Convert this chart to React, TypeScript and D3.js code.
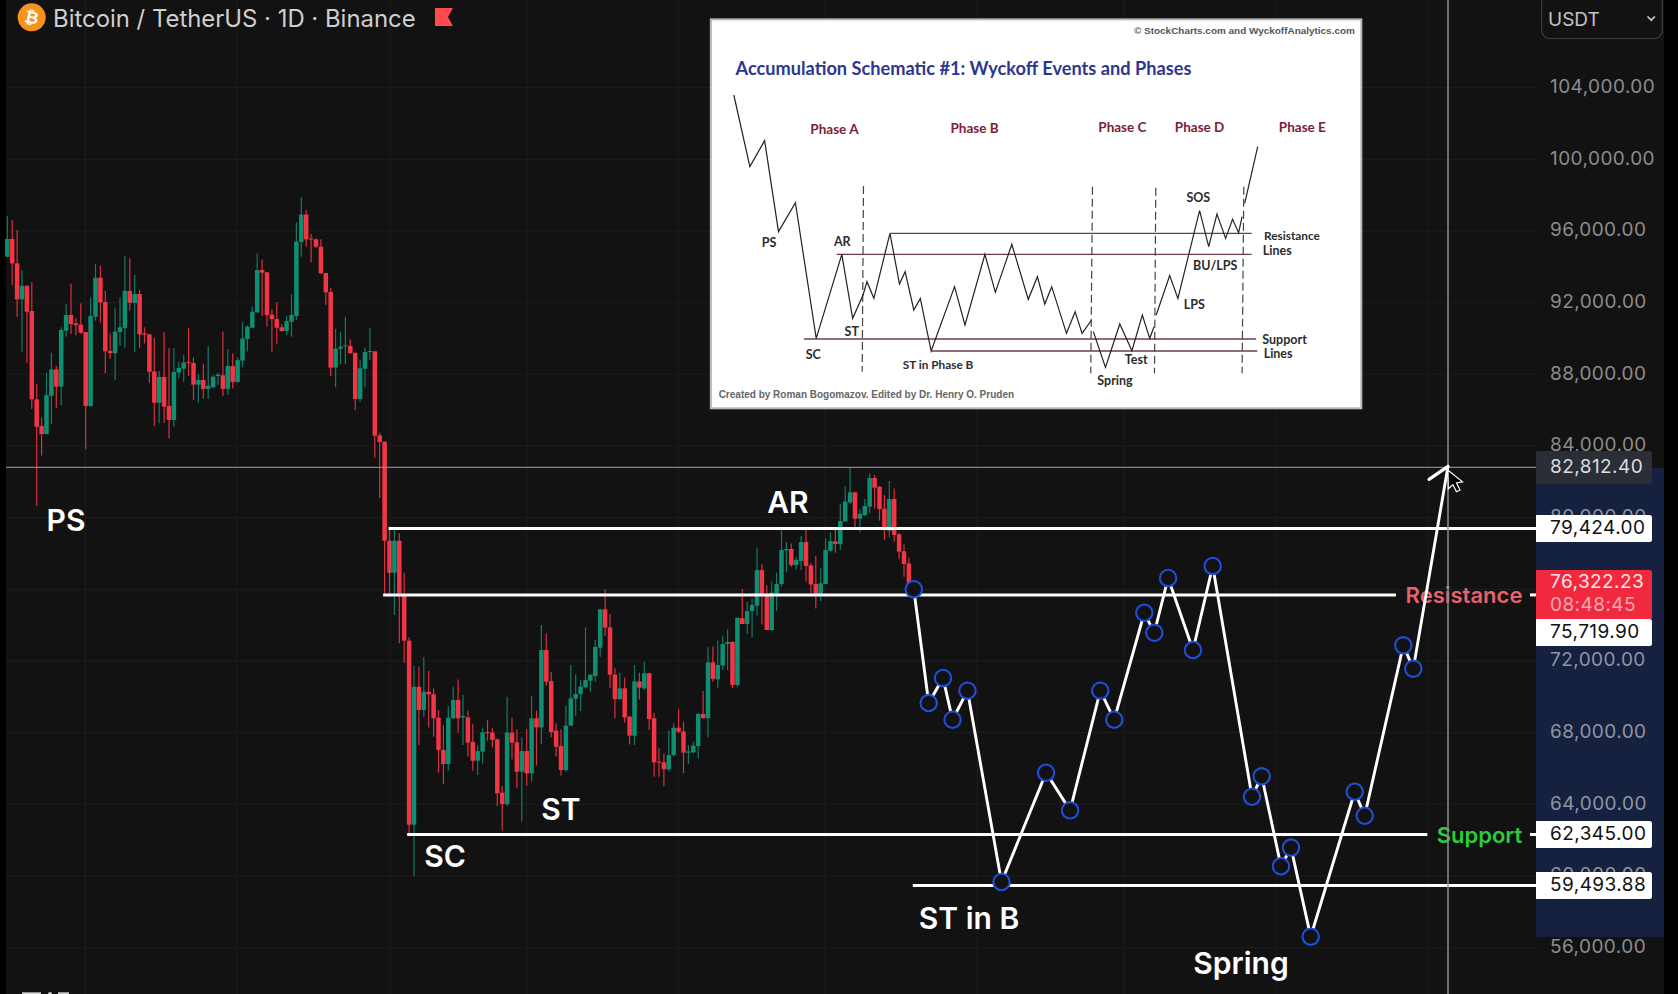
import React from "react";
import * as d3 from "d3";

const opens = [94510,95500,94140,92130,92890,91480,86550,85060,84610,86750,
88220,87260,90380,91260,90790,90720,90310,86180,91160,93340,
91980,89250,89120,90310,90530,92600,91930,92430,90230,90180,
88110,86360,87800,86180,85400,88040,88260,88630,88580,87370,
87630,87130,87220,87850,87890,87130,88410,87520,88710,89920,
90550,91400,93770,93640,91280,91030,90570,90360,90880,91200,
95330,96860,95530,95480,95070,93600,92540,88320,89380,89530,
89530,89150,86570,88260,89210,89230,84540,84190,
78660,76870,78660,75680,73080,62810,70510,69210,70230,70090,68780,66980,
66200,68750,69770,68800,68800,67420,66380,66890,67980,67950,
67570,64600,63960,67950,67410,65770,66920,65680,68750,68240,
72560,70830,68060,67200,65860,
68340,69840,70100,70480,70850,
71110,72690,74830,73820,71180,69820,70420,68840,67780,70810,
70420,71260,68750,66330,66290,65900,66700,68220,68020,66830,
66850,67200,68990,68750,71870,70920,71700,72890,73020,70610,
74340,74010,74730,75030,77020,75630,73670,75720,76240,78120,
78200,77300,77530,78590,77280,76240,75680,76240,78100,78620,
78470,79740,80800,81360,79890,80090,80560,82160,81670,80450,
79220,80990,79010,78070,77390];

const closes = [95500,94140,92130,92890,91440,86550,85020,84610,86790,88220,
87260,90420,91260,90750,90700,90270,86180,91200,93340,91960,
89230,89130,90330,90570,92600,91940,92430,90180,90160,88090,
86360,87800,86140,85400,88070,88300,88600,88580,87370,87630,
87130,87310,87810,87930,87130,88410,87520,88740,89940,90600,
91440,93770,93620,91260,91030,90550,90360,90920,91260,95350,
96860,95480,95480,95070,93580,92520,88320,89380,89490,89560,
89120,86570,88280,89190,89250,84520,84170,78660,
76870,78660,75720,73080,62810,70510,69210,70230,70090,68750,66980,66200,
68780,69770,68750,68880,67390,66380,66920,67960,67950,67540,
64560,63960,67950,67390,65770,66920,65680,68750,68240,72560,
70790,67980,67160,65860,68340,
69860,70100,70510,70880,71180,
72730,74830,73810,71180,69820,70420,68800,67780,70810,70460,
71260,68710,66290,66270,65900,66700,68220,68000,66830,66900,
67220,68990,68750,71870,70940,71720,72890,73000,70610,74360,
74010,74730,75070,77020,75630,73670,75760,76240,78140,78200,
77300,77580,78590,77250,76220,75680,76280,78140,78640,78470,
79760,80840,81360,79890,80150,80600,82160,81620,80430,79260,
80990,78980,78050,77360,76280];

const highs = [96780,96560,96000,93770,92890,93080,87400,85540,88040,89150,
88410,90570,91870,93020,91070,91910,90310,92240,94100,94010,
92610,90230,91680,92240,94550,94420,93490,92650,90570,90180,
89970,88130,90290,89400,89400,88650,89020,90530,88890,87960,
88520,89530,87910,88040,90330,89360,89120,88890,90870,90680,
91720,94700,94360,93640,91570,91980,90750,91200,92430,96430,
97820,97120,95780,95530,95480,93600,92760,90470,90310,91160,
89900,89150,88780,89430,90530,89230,84690,84190,
79350,79290,79070,76870,73270,71670,71630,72150,71390,70420,69210,68370,
69430,70510,70920,70050,69170,68430,67260,68240,68650,68190,
67630,64970,69950,68780,68130,67690,68130,69990,69170,73950,
73490,71350,68470,68130,69450,
71720,71200,70880,73820,71220,
73120,74830,75940,74570,71540,71290,71030,68880,71720,71290,
71910,71290,69060,67070,66790,68060,68470,69250,68560,67260,
67440,69060,70270,72710,72750,73080,73360,73710,73020,74360,
75960,75260,75440,78270,77340,76190,76370,76870,79400,78570,
78510,77770,78920,79400,77400,77820,77120,78790,79130,79350,
80710,81710,82730,81390,80410,80990,82420,82330,81710,81210,
81990,81580,79110,78460,77710];

const lows = [94510,92930,91160,89210,88560,86010,80600,83420,84610,85170,
86050,86230,90050,90200,90120,90200,83760,86140,90940,90830,
88000,88820,87630,89530,89430,91500,89210,89430,89670,87480,
85060,85210,85250,84370,85020,87720,87520,87850,86510,86360,
86600,86570,87180,87350,86740,86790,87160,87480,88340,89230,
90550,91400,91200,90600,89210,89620,90330,90140,90050,90980,
94510,95070,94200,94980,93580,91810,87850,87220,88520,88520,
89120,85950,86420,87220,88740,83290,81040,75720,
75630,74510,72930,71850,62270,59950,67260,68840,68240,67720,65710,65080,
65820,68710,67950,67260,66610,65820,65580,66230,67500,67130,
63850,62480,63850,66460,64840,62980,64990,65210,66100,67310,
70570,67690,66610,65550,65770,
68320,68880,69150,70420,70230,
70790,72190,73340,70440,68750,69800,68500,67290,67260,69800,
70330,68090,65490,65490,64970,65770,66610,67910,65680,66200,
66790,66510,68750,67690,70790,70420,71440,71440,70460,70480,
74010,73450,73270,74470,73990,73670,73640,74750,76090,76930,
77210,77060,77020,76370,75630,74880,75290,76240,78050,77990,
78140,79720,80690,79440,79130,80040,80220,80460,79780,78700,
78850,78600,77620,76650,75910];

// hand-drawn projected path (day index, price)
const waveDays = [185,188.04,190.96,192.9,195.96,202.9,212,216.9,223.06,225.9,232.04,234.08,236.9,241.98,246,254.02,256,259.94,261.98,266,274.98,277.02,284.9,286.94,294.02];
const wavePrices = [75950,69600,71000,68670,70290,59610,65710,63610,70290,68670,74640,73520,76580,72560,77250,64370,65510,60490,61530,56560,64650,63310,72820,71520,82812.4];

const gridTicks = [104000,100000,96000,92000,88000,84000,80000,76000,72000,68000,64000,60000,56000];
const axisLabels = [104000,100000,96000,92000,88000,84000,80000,72000,68000,64000,60000,56000];
const monthGridDays = [15.9,46.8,78.1,106,136.9,166.9,198,227.9,259,290];
const crosshairPrice = 82812.4;

const levelPrices = [79424, 75719.9, 62345, 59493.88];
const levelStartDays = [77.8,76.7,81.6,184.8];
const levelEndDays = [312,283.4,289.8,312];

const priceTags = ["82,812.40","79,424.00","75,719.90","62,345.00","59,493.88"];
const tagTops = [451,515,619,821,872];
const tagHeights = [33,27,27,27,27];
const tagFills = ["#2b2e36","#ffffff","#ffffff","#ffffff","#ffffff"];
const tagInk = ["#dcdcdc","#111111","#111111","#111111","#111111"];

const eventLabels = ["PS","AR","ST","SC","ST in B","Spring"];
const eventX = [66,788,561,445,969,1241];
const eventY = [520,502,809,856,918,963];

// schematic inset (own picture units)
const schemPathA = [[78,255],[115,470],[149,392],[181,665],[220,578],[268,985],[327,733],[352,925],[376,855],[385,815],[401,865],[438,670],[460,822],[473,785],[493,900],[508,865],[533,1023],[587,830],[611,945],[657,733],[681,847],[719,703],[757,868],[778,800],[795,882],[811,830],[845,970],[865,905],[881,970],[903,930]];
const schemPathB = [[907,965],[935,1072],[968,942],[996,1022],[1020,915],[1037,985],[1047,950]];
const schemPathC = [[1052,915],[1083,797],[1102,865],[1152,602],[1173,710],[1192,612],[1212,685],[1228,628],[1242,668],[1250,620]];
const schemPathD = [[1256,580],[1286,410]];
const schemLevels = [[315,1272,733],[438,1272,670],[240,1282,987],[533,1285,1023]];
const schemDividers = [[377,528,374,1085],[905,530,901,1090],[1051,533,1048,1090],[1254,530,1250,1090]];
const schemPhases: [string,number,number][] = [["Phase A",310,358],["Phase B",633,355],["Phase C",974,352],["Phase D",1152,352],["Phase E",1389,350]];
const schemEvents: [string,number,number][] = [["PS",159,698],["AR",328,695],["ST",350,963],["SC",261,1032],["ST in Phase B",549,1063],["Spring",957,1110],["Test",1006,1048],["LPS",1140,884],["BU/LPS",1188,767],["SOS",1149,562],["Resistance",1365,678],["Lines",1331,722],["Support",1348,987],["Lines",1333,1030]];

const UI = "Inter, 'Noto Sans', sans-serif";
const BG = "#121212";
const GREEN = "#0f8f72";
const RED = "#f23645";

export default function App() {
  const x = d3.scaleLinear().domain([0, 184]).range([7.3, 908.9]);
  const y = d3.scaleLinear().domain([56000, 104000]).range([947.7, 87.7]);
  const yMark = (p: number) => y(p) - 1;
  const sx = d3.scaleLinear().domain([0, 1568]).range([700, 1380]);
  const sy = d3.scaleLinear().domain([0, 1230]).range([10, 420]);
  const sLine = d3.line<number[]>().x((d) => sx(d[0])).y((d) => sy(d[1]));
  const waveLine = d3.line<number>().x((d) => x(d)).y((_, i) => yMark(wavePrices[i]));
  const bodyW = 4.5;
  const tipX = x(waveDays[waveDays.length - 1]);
  const tipY = yMark(wavePrices[wavePrices.length - 1]);
  const tickFont = { fontFamily: UI, fontSize: 19, letterSpacing: 0.44 };

  return (
    <svg width={1678} height={994} style={{ position: "fixed", left: 0, top: 0, display: "block" }}>
      <rect width={1678} height={994} fill="#000" />
      <rect x={6} width={1658} height={994} fill={BG} />
      <rect x={1536} y={468} width={128} height={469} fill="#16203f" />

      {gridTicks.map((t) => (
        <line key={t} x1={6} x2={1536} y1={y(t)} y2={y(t)} stroke="#1e1e1e" strokeWidth={1} />
      ))}
      {monthGridDays.map((d) => (
        <line key={d} x1={x(d)} x2={x(d)} y1={0} y2={994} stroke="#1e1e1e" strokeWidth={1} />
      ))}

      {axisLabels.map((t) => (
        <text key={t} x={1550} y={y(t) - 1.6} dy="0.36em" {...tickFont}
          fill={y(t) > 468 && y(t) < 937 ? "#8f94a3" : "#8c8c8c"}>
          {d3.format(",.2f")(t)}
        </text>
      ))}

      {opens.map((o, i) => {
        const c = closes[i];
        const up = c >= o;
        const top = yMark(Math.max(o, c));
        const bot = yMark(Math.min(o, c));
        return (
          <g key={i}>
            <line x1={x(i)} x2={x(i)} y1={yMark(highs[i])} y2={yMark(lows[i])} stroke={up ? "#137a68" : "#d9303f"} strokeWidth={1.2} />
            <rect x={x(i) - bodyW / 2} y={top} width={bodyW} height={Math.max(1, bot - top)} fill={up ? GREEN : RED} />
          </g>
        );
      })}

      {/* crosshair horizontal */}
      <line x1={6} x2={1536} y1={y(crosshairPrice)} y2={y(crosshairPrice)} stroke="#a0a0a0" strokeWidth={1} />

      {levelPrices.map((p, i) => (
        <line key={p} x1={x(levelStartDays[i])} x2={x(levelEndDays[i])} y1={y(p) + 0.5} y2={y(p) + 0.5} stroke="#fff" strokeWidth={3} />
      ))}
      <line x1={1530} x2={1536} y1={y(levelPrices[1]) + 0.5} y2={y(levelPrices[1]) + 0.5} stroke="#fff" strokeWidth={3} />
      <line x1={1530} x2={1536} y1={y(levelPrices[2]) + 0.5} y2={y(levelPrices[2]) + 0.5} stroke="#fff" strokeWidth={3} />

      <text x={1464} y={595} dy="0.36em" textAnchor="middle" fontFamily={UI} fontWeight={600} fontSize={22} fill="#e8626c">Resistance</text>
      <text x={1479.5} y={835} dy="0.36em" textAnchor="middle" fontFamily={UI} fontWeight={600} fontSize={22} fill="#2ecb3f">Support</text>

      {eventLabels.map((t, i) => (
        <text key={i} x={eventX[i]} y={eventY[i]} dy="0.36em" textAnchor="middle" fontFamily={UI} fontWeight={600} fontSize={30} fill="#fff">{t}</text>
      ))}

      {/* vertical crosshair */}
      <line x1={1448} x2={1448} y1={0} y2={994} stroke="#8e8e8e" strokeWidth={1.5} />

      {/* projected path */}
      <path d={waveLine(waveDays) || ""} fill="none" stroke="#fff" strokeWidth={2.9} strokeLinejoin="miter" />
      <line x1={tipX} y1={tipY} x2={tipX - 19} y2={tipY + 13} stroke="#fff" strokeWidth={3.2} strokeLinecap="round" />
      {waveDays.slice(0, -1).map((d, i) => (
        <circle key={i} cx={x(d)} cy={yMark(wavePrices[i])} r={8.2} fill={BG} stroke="#1f4fd8" strokeWidth={2.1} />
      ))}

      {/* cursor */}
      <path d={`M${tipX} ${tipY + 4} l14.5 11.5 l-6 1.2 l3.5 7 l-3.5 1.8 l-3.6 -7.2 l-4.6 4.2 z`} fill="#000" stroke="#fff" strokeWidth={1.2} />

      {/* price tags */}
      {priceTags.map((t, i) => (
        <g key={t}>
          <path d={`M1536 ${tagTops[i]} h113.5 a2.5 2.5 0 0 1 2.5 2.5 v${tagHeights[i] - 5} a2.5 2.5 0 0 1 -2.5 2.5 h-113.5 z`} fill={tagFills[i]} />
          <text x={1550} y={tagTops[i] + tagHeights[i] / 2 - 1.2} dy="0.36em" {...tickFont} fill={tagInk[i]}>{t}</text>
        </g>
      ))}
      <path d="M1536 570 h113.5 a2.5 2.5 0 0 1 2.5 2.5 v46.5 h-116 z" fill="#f0293e" />
      <text x={1550} y={581.5} dy="0.36em" {...tickFont} fill="#fde4e6">76,322.23</text>
      <text x={1550} y={604.5} dy="0.36em" {...tickFont} fill="#f7a9b0">08:48:45</text>

      {/* header */}
      <circle cx={31.7} cy={17.3} r={14} fill="#f7931a" />
      <text x={31.7} y={17.3} dy="0.36em" textAnchor="middle" fontFamily="'DejaVu Sans', sans-serif" fontWeight={700} fontSize={17} fill="#fff" transform="rotate(12 31.7 17.3)">₿</text>
      <text x={53} y={18} dy="0.36em" fontFamily={UI} fontSize={23.9} fill="#cfcfcf">Bitcoin / TetherUS · 1D · Binance</text>
      <path d="M435 8 h18 l-5 9 l5 9 h-18 z" fill="#ff4a50" />

      {/* currency dropdown */}
      <rect x={1541.7} y={-6} width={120.6} height={44.5} rx={8} fill={BG} stroke="#3f3f3f" strokeWidth={1.2} />
      <text x={1548} y={19} dy="0.36em" fontFamily={UI} fontSize={19} fill="#c4c4c4">USDT</text>
      <path d="M1647.5 16.5 l3.7 3.7 l3.7 -3.7" fill="none" stroke="#c4c4c4" strokeWidth={1.7} />

      {/* logo clipped at the bottom */}
      <rect x={22} y={992.3} width={19} height={3} fill="#cfcfcf" />
      <circle cx={50} cy={994} r={2} fill="#cfcfcf" />
      <rect x={58} y={992.3} width={11} height={3} fill="#cfcfcf" />

      {/* schematic inset */}
      <rect x={sx(25)} y={sy(28)} width={sx(1525) - sx(25)} height={sy(1195) - sy(28)} fill="#fff" stroke="#b5b5b5" strokeWidth={2} />
      <text x={sx(1510)} y={sy(60)} dy="0.36em" textAnchor="end" fontFamily="'Liberation Sans', sans-serif" fontWeight={700} fontSize={9.95} fill="#555">© StockCharts.com and WyckoffAnalytics.com</text>
      <text x={sx(82)} y={sy(175)} dy="0.36em" fontFamily="Lato, sans-serif" fontWeight={700} fontSize={18.2} fill="#2e3790">Accumulation Schematic #1: Wyckoff Events and Phases</text>
      <text x={sx(43)} y={sy(1154)} dy="0.36em" fontFamily="'Liberation Sans', sans-serif" fontWeight={700} fontSize={10} fill="#666">Created by Roman Bogomazov. Edited by Dr. Henry O. Pruden</text>

      {schemLevels.map((l, i) => (
        <line key={i} x1={sx(l[0])} x2={sx(l[1])} y1={sy(l[2])} y2={sy(l[2])} stroke="#6d3c48" strokeWidth={1.3} />
      ))}
      {schemDividers.map((l, i) => (
        <line key={i} x1={sx(l[0])} x2={sx(l[2])} y1={sy(l[1])} y2={sy(l[3])} stroke="#444" strokeWidth={1.2} strokeDasharray="8 4" />
      ))}
      {[schemPathA, schemPathB, schemPathC, schemPathD].map((p, i) => (
        <path key={i} d={sLine(p) || ""} fill="none" stroke="#222" strokeWidth={1.2} />
      ))}
      {schemPhases.map(([t, a, b]) => (
        <text key={t} x={sx(a)} y={sy(b)} dy="0.36em" textAnchor="middle" fontFamily="Lato, sans-serif" fontWeight={700} fontSize={13.5} fill="#7b2038">{t}</text>
      ))}
      {schemEvents.map(([t, a, b], i) => (
        <text key={i} x={sx(a)} y={sy(b)} dy="0.36em" textAnchor="middle" fontFamily="Lato, sans-serif" fontWeight={700} fontSize={t.length > 8 ? 11.8 : 12.5} fill="#2c2c2c">{t}</text>
      ))}
    </svg>
  );
}
